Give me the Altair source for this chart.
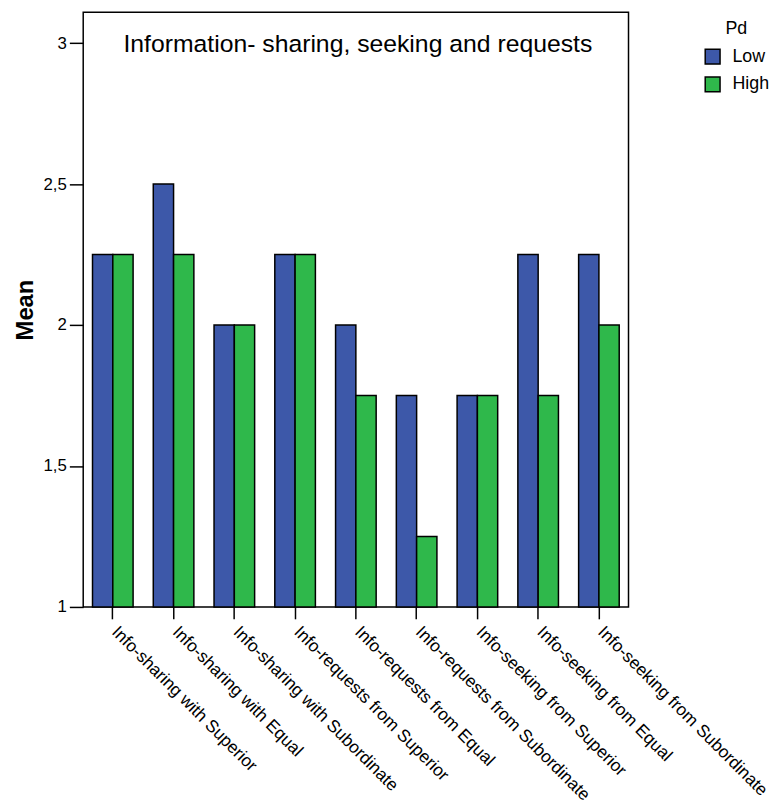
import altair as alt
import pandas as pd

categories = [
    "Info-sharing with Superior",
    "Info-sharing with Equal",
    "Info-sharing with Subordinate",
    "Info-requests from Superior",
    "Info-requests from Equal",
    "Info-requests from Subordinate",
    "Info-seeking from Superior",
    "Info-seeking from Equal",
    "Info-seeking from Subordinate",
]
low_values = [2.25, 2.5, 2.0, 2.25, 2.0, 1.75, 1.75, 2.25, 2.25]
high_values = [2.25, 2.25, 2.0, 2.25, 1.75, 1.25, 1.75, 1.75, 2.0]
groups = ["Low", "High"]
y_ticks = [1, 1.5, 2, 2.5, 3]
title_text = "Information- sharing, seeking and requests"

rows = []
for c, lo, hi in zip(categories, low_values, high_values):
    rows.append({"cat": c, "Pd": "Low", "Mean": lo})
    rows.append({"cat": c, "Pd": "High", "Mean": hi})
df = pd.DataFrame(rows)

FONT = "Liberation Sans"
W, H = 551, 601

bars = alt.Chart(df).mark_bar(stroke="black", strokeWidth=1.5).encode(
    x=alt.X("cat:N", sort=categories, title=None,
            scale=alt.Scale(paddingInner=0.332, paddingOuter=0.153),
            axis=alt.Axis(labelAngle=45, labelAlign="left", labelBaseline="top",
                          labelFontSize=17.5, labelFont=FONT, labelColor="black",
                          tickSize=12, tickColor="black", tickWidth=1.5,
                          labelPadding=4, labelOffset=8,
                          domain=False, labelLimit=400)),
    xOffset=alt.XOffset("Pd:N", sort=groups, scale=alt.Scale(paddingInner=0, paddingOuter=0)),
    y=alt.Y("Mean:Q", scale=alt.Scale(domain=[1, 3.11], zero=False, nice=False),
            title="Mean",
            axis=alt.Axis(values=y_ticks, format=".1~f",
                          labelExpr="replace(datum.label, '.', ',')",
                          labelFontSize=17, labelFont=FONT, labelColor="black",
                          tickSize=14, tickColor="black", tickWidth=1.5,
                          labelPadding=3, domain=False, grid=False,
                          titleFont=FONT, titleFontSize=24, titleFontWeight="bold",
                          titleColor="black", titlePadding=6)),
    y2=alt.datum(1),
    color=alt.Color("Pd:N", sort=groups,
                    scale=alt.Scale(domain=groups, range=["#3d58a9", "#2fb84b"]),
                    legend=alt.Legend(title="Pd", orient="none", legendX=627, legendY=8,
                                      titleFont=FONT, titleFontSize=18, titleFontWeight="normal",
                                      titleColor="black", titleAnchor="middle", titlePadding=10,
                                      labelFont=FONT, labelFontSize=18, labelColor="black",
                                      symbolType="square", symbolSize=225,
                                      symbolStrokeColor="black", symbolStrokeWidth=1.5,
                                      symbolOpacity=1, labelOffset=11, rowPadding=6,
                                      padding=0)),
)

title = alt.Chart(pd.DataFrame({"t": [title_text]})).mark_text(
    font=FONT, fontSize=25, color="black", align="center", baseline="alphabetic"
).encode(text="t:N", x=alt.value(W / 2 + 2), y=alt.value(40))

chart = alt.layer(bars, title).properties(
    width=W, height=H,
    background="white",
    autosize=alt.AutoSizeParams(type="none"),
    padding={"left": 76, "top": 0, "right": 146, "bottom": 203},
).configure_view(stroke="black", strokeWidth=1.5)

chart.save("out.html", embed_options={"renderer": "svg", "actions": False})
